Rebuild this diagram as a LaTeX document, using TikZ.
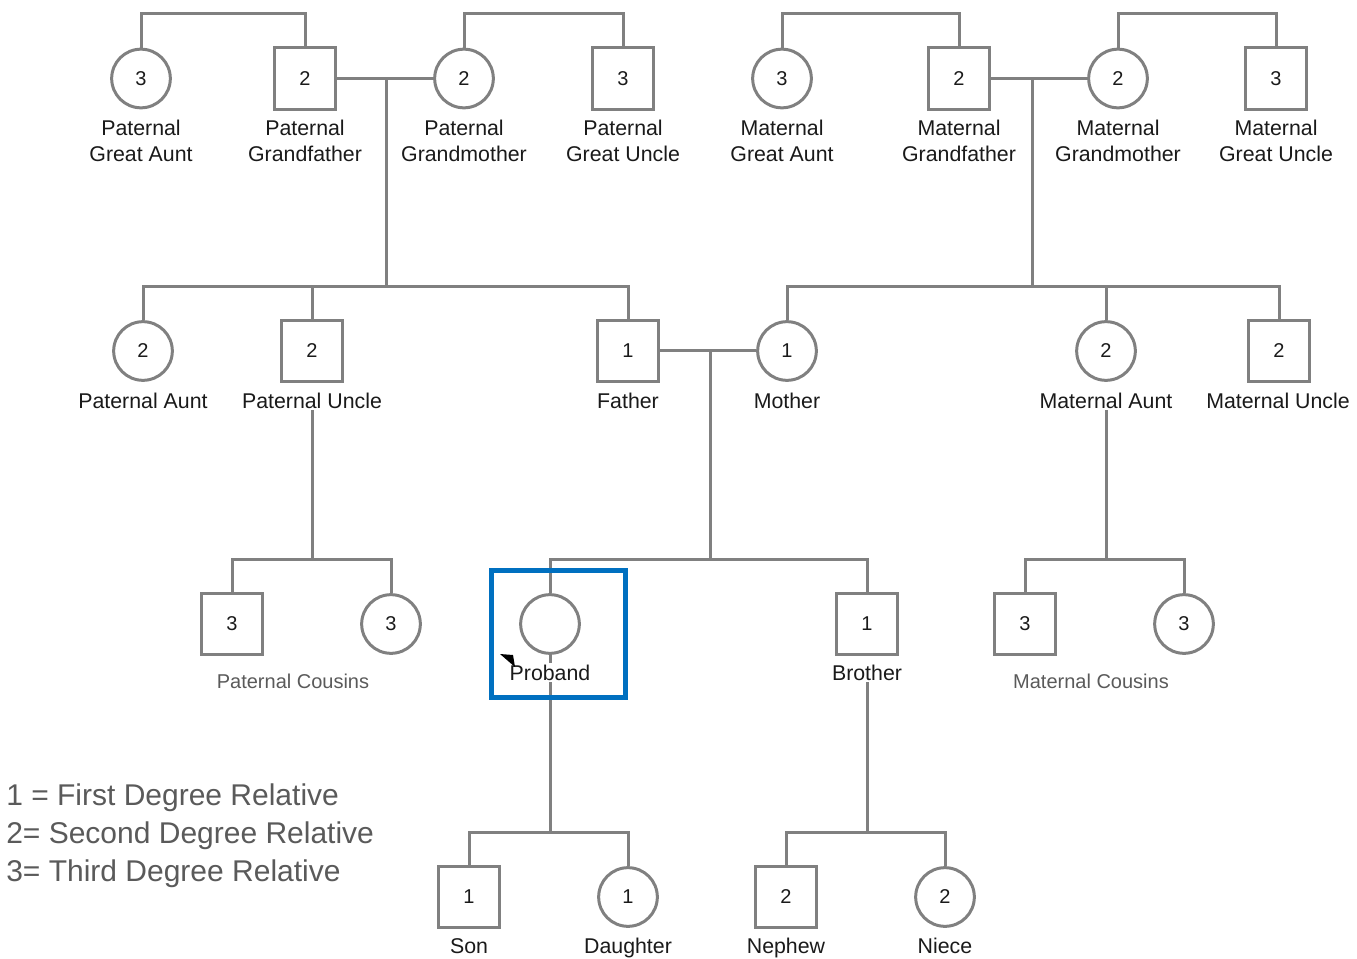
\documentclass[tikz,border=0pt]{standalone}
\usepackage{fontspec}
\setmainfont{Liberation Sans}
\definecolor{linegray}{HTML}{808080}
\definecolor{txt}{HTML}{1A1A1A}
\definecolor{softtxt}{HTML}{5A5A5A}
\definecolor{selblue}{HTML}{0070C0}
\begin{document}
\begin{tikzpicture}[x=0.75pt,y=-0.75pt,
  conn/.style={draw=linegray,line width=2.25pt},
  fem/.style={circle,draw=linegray,line width=2.25pt,minimum size=44pt,inner sep=0pt,
    font=\fontsize{15}{18}\selectfont,text=txt},
  mal/.style={rectangle,draw=linegray,line width=2.25pt,minimum size=46pt,inner sep=0pt,
    font=\fontsize{15}{18}\selectfont,text=txt},
  lab/.style={align=center,font=\fontsize{16}{19.5}\selectfont,text=txt,inner sep=1pt,fill=white},
  onelab/.style={lab,anchor=base},
  grplab/.style={anchor=base,font=\fontsize{15}{18}\selectfont,text=softtxt,inner sep=1pt},
  legend/.style={anchor=base west,inner sep=0pt,font=\fontsize{22.5}{27}\selectfont,text=softtxt}]
\useasboundingbox (0,0) rectangle (1357,959);

% rail heights
\coordinate (top) at (0,14);
\coordinate (gen2) at (0,287);
\coordinate (gen3) at (0,559);
\coordinate (gen4) at (0,832);

% grandparents' generation
\node[fem] (pga) at (141,78.5) {3};
\node[mal] (pgf) at (305,78.5) {2};
\node[fem] (pgm) at (464,78.5) {2};
\node[mal] (pgu) at (623,78.5) {3};
\node[fem] (mga) at (782,78.5) {3};
\node[mal] (mgf) at (959,78.5) {2};
\node[fem] (mgm) at (1118,78.5) {2};
\node[mal] (mgu) at (1276,78.5) {3};

\node[lab] (lpga) at (141,141) {Paternal\\Great Aunt};
\node[lab] (lpgf) at (305,141) {Paternal\\Grandfather};
\node[lab] (lpgm) at (464,141) {Paternal\\Grandmother};
\node[lab] (lpgu) at (623,141) {Paternal\\Great Uncle};
\node[lab] (lmga) at (782,141) {Maternal\\Great Aunt};
\node[lab] (lmgf) at (959,141) {Maternal\\Grandfather};
\node[lab] (lmgm) at (1118,141) {Maternal\\Grandmother};
\node[lab] (lmgu) at (1276,141) {Maternal\\Great Uncle};

% parents' generation
\node[fem] (pa) at (143,351) {2};
\node[mal] (pu) at (312,351) {2};
\node[mal] (fa) at (628,351) {1};
\node[fem] (mo) at (787,351) {1};
\node[fem] (ma) at (1106,351) {2};
\node[mal] (mu) at (1279,351) {2};

\node[onelab] (lpa) at (143,408) {Paternal Aunt};
\node[onelab] (lpu) at (312,408) {Paternal Uncle};
\node[onelab] (lfa) at (628,408) {Father};
\node[onelab] (lmo) at (787,408) {Mother};
\node[onelab] (lma) at (1106,408) {Maternal Aunt};
\node[onelab] (lmu) at (1278,408) {Maternal Uncle};

% proband's generation
\node[mal] (pc1) at (232,624) {3};
\node[fem] (pc2) at (391,624) {3};
\node[fem] (pro) at (550,624) {};
\node[mal] (bro) at (867,624) {1};
\node[mal] (mc1) at (1025,624) {3};
\node[fem] (mc2) at (1184,624) {3};

\node[grplab] (lpc) at (293,688) {Paternal Cousins};
\node[onelab] (lpro) at (550,680.5) {Proband};
\node[onelab] (lbro) at (867,680.5) {Brother};
\node[grplab] (lmc) at (1091,688) {Maternal Cousins};

% children's generation
\node[mal] (son) at (469,897) {1};
\node[fem] (dau) at (628,897) {1};
\node[mal] (nep) at (786,897) {2};
\node[fem] (nie) at (945,897) {2};

\node[onelab] (lson) at (469,953) {Son};
\node[onelab] (ldau) at (628,953) {Daughter};
\node[onelab] (lnep) at (786,953) {Nephew};
\node[onelab] (lnie) at (945,953) {Niece};

% sibships of the grandparents
\draw[conn] (pga.north) -- (pga.north |- top) -- (pgf.north |- top) -- (pgf.north);
\draw[conn] (pgm.north) -- (pgm.north |- top) -- (pgu.north |- top) -- (pgu.north);
\draw[conn] (mga.north) -- (mga.north |- top) -- (mgf.north |- top) -- (mgf.north);
\draw[conn] (mgm.north) -- (mgm.north |- top) -- (mgu.north |- top) -- (mgu.north);

% grandparents' unions and their children
\coordinate (pdrop) at (386,78.5);
\coordinate (mdrop) at (1032,78.5);
\draw[conn] (pgf.east) -- (pgm.west);
\draw[conn] (mgf.east) -- (mgm.west);
\draw[conn] (pdrop) -- (pdrop |- gen2);
\draw[conn] (mdrop) -- (mdrop |- gen2);
\draw[conn] (pa.north) -- (pa.north |- gen2) -- (fa.north |- gen2) -- (fa.north);
\draw[conn] (pu.north) -- (pu.north |- gen2);
\draw[conn] (mo.north) -- (mo.north |- gen2) -- (mu.north |- gen2) -- (mu.north);
\draw[conn] (ma.north) -- (ma.north |- gen2);

% parents' union and their children; the uncle's and aunt's children
\coordinate (fdrop) at (710,351);
\draw[conn] (fa.east) -- (mo.west);
\draw[conn] (fdrop) -- (fdrop |- gen3);
\draw[conn] (pro.north) -- (pro.north |- gen3) -- (bro.north |- gen3) -- (bro.north);
\draw[conn] (lpu.south) -- (lpu.south |- gen3);
\draw[conn] (pc1.north) -- (pc1.north |- gen3) -- (pc2.north |- gen3) -- (pc2.north);
\draw[conn] (lma.south) -- (lma.south |- gen3);
\draw[conn] (mc1.north) -- (mc1.north |- gen3) -- (mc2.north |- gen3) -- (mc2.north);

% children of the proband and of the brother
\draw[conn] (pro.south) -- (lpro.north);
\draw[conn] (lpro.south) -- (lpro.south |- gen4);
\draw[conn] (son.north) -- (son.north |- gen4) -- (dau.north |- gen4) -- (dau.north);
\draw[conn] (lbro.south) -- (lbro.south |- gen4);
\draw[conn] (nep.north) -- (nep.north |- gen4) -- (nie.north |- gen4) -- (nie.north);

% highlight round the proband
\draw[selblue,line width=3.75pt] (491.5,570.5) rectangle (625.5,697.5);
\fill[black] (500,654) -- (513,655) -- (515,667) -- cycle;

% legend
\node[legend] (leg1) at (6,805) {1 = First Degree Relative};
\node[legend] (leg2) at (6,843) {2= Second Degree Relative};
\node[legend] (leg3) at (6,881) {3= Third Degree Relative};
\end{tikzpicture}
\end{document}
